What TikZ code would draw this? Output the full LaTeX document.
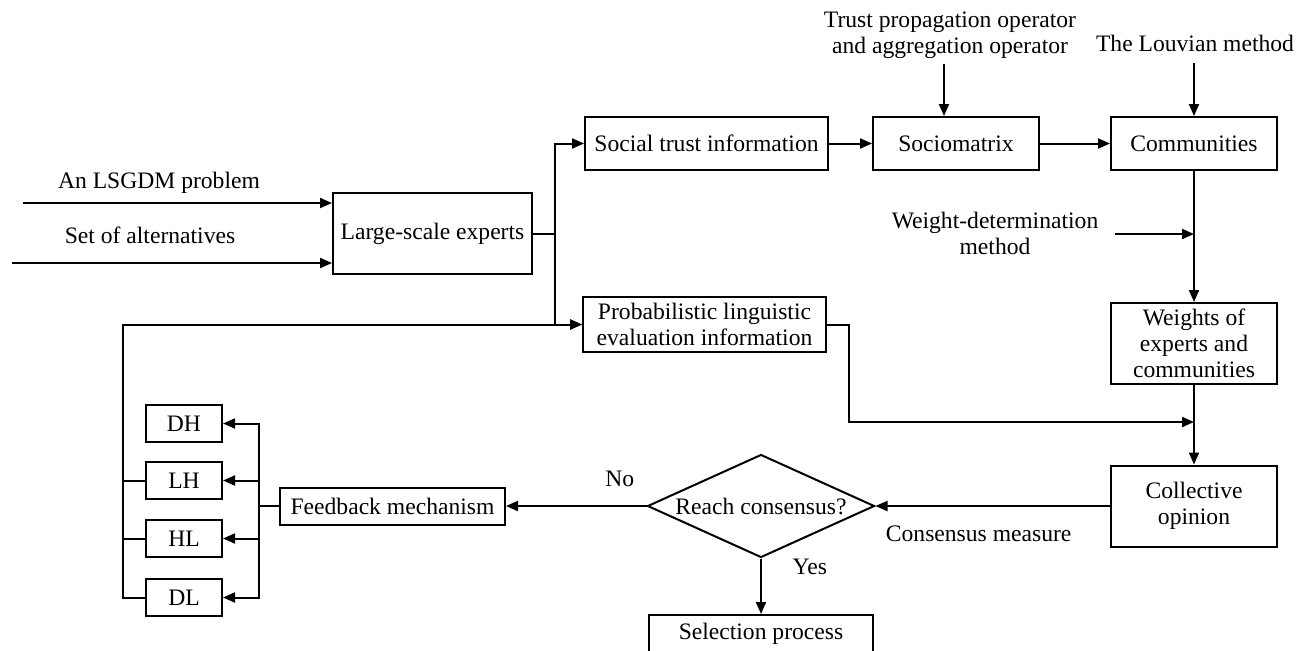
\documentclass[tikz,border=0pt]{standalone}
\usepackage{fontspec}
\setmainfont{Liberation Serif}
\usetikzlibrary{arrows.meta,shapes.geometric,calc}

\begin{document}
\begin{tikzpicture}[x=0.5pt, y=-0.5pt, line width=1pt,
	font=\fontsize{11.8}{13}\selectfont,
	box/.style={draw, align=center, inner sep=1pt},
	arr/.style={-{Triangle[length=6pt, width=5pt]}}]
	\useasboundingbox (0,0) rectangle (1307,650);

	% boxes
	\node[box, minimum width=99.5pt, minimum height=40.5pt] (large) at (432.5,233.5) {Large-scale experts};
	\node[box, minimum width=121.5pt, minimum height=26.5pt] (trust) at (706.5,143.5) {Social trust information};
	\node[box, minimum width=121.5pt, minimum height=27.5pt] (prob) at (704.5,324.5) {Probabilistic linguistic\\evaluation information};
	\node[box, minimum width=83pt, minimum height=26.5pt] (socio) at (956,143.5) {Sociomatrix};
	\node[box, minimum width=83pt, minimum height=26.5pt] (comm) at (1194,143.5) {Communities};
	\node[box, minimum width=83pt, minimum height=40.5pt] (weights) at (1194,343.5) {Weights of\\experts and\\communities};
	\node[box, minimum width=83pt, minimum height=40.5pt] (coll) at (1194,506) {Collective\\opinion};
	\node[draw, shape=diamond, aspect=2.2, inner sep=0pt, minimum width=113.5pt, minimum height=51.5pt] (dia) at (761,506) {Reach consensus?};
	\node[box, minimum width=112.5pt, minimum height=18.5pt] (fb) at (392.5,506) {Feedback mechanism};
	\node[box, minimum width=38pt, minimum height=18.5pt] (dh) at (184,423.5) {DH};
	\node[box, minimum width=38pt, minimum height=18.5pt] (lh) at (184,480.5) {LH};
	\node[box, minimum width=38pt, minimum height=18.5pt] (hl) at (184,538.5) {HL};
	\node[box, minimum width=38pt, minimum height=18.5pt] (dl) at (184,597.5) {DL};
	\node[box, minimum width=112pt, minimum height=18.5pt] (sel) at (761,633.5) {Selection process};

	% free labels
	\node (lsgdm) at (159,183) {An LSGDM problem};
	\node (alts) at (150,235) {Set of alternatives};
	\node[align=center] (tpo) at (950,35) {Trust propagation operator\\and aggregation operator};
	\node (louv) at (1195,43) {The Louvian method};
	\node[align=center] (wdm) at (995,233) {Weight-determination\\method};

	\coordinate (in1) at (23,203);
	\coordinate (in2) at (12,263);
	\coordinate (bus) at (555,233.5);
	\coordinate (lbus) at (123,597.5);
	\coordinate (fbus) at (259,506);
	\coordinate (tpoin) at (944,64);
	\coordinate (louvin) at (1194,63);
	\coordinate (wdin) at (1115,234);
	\coordinate (mrg) at (1194,422);

	\draw[arr] (in1) -- (in1 -| large.west);
	\draw[arr] (in2) -- (in2 -| large.west);
	\draw (large.east) -- (bus);
	\draw[arr] (bus) |- (trust.west);
	\draw[arr] (bus) |- (prob.west);
	\draw[arr] (trust) -- (socio);
	\draw[arr] (socio) -- (comm);
	\draw[arr] (tpoin) -- (tpoin |- socio.north);
	\draw[arr] (louvin) -- (comm.north);
	\draw[arr] (comm.south) -- (weights.north);
	\draw[arr] (wdin) -- (wdin -| weights.north);
	\draw[arr] (weights.south) -- (coll.north);
	\draw[arr] (prob.east) -- ++(22,0) |- (mrg);
	\draw[arr] (coll.west) -- (dia.east) node[below=6pt, pos=0.56] {Consensus measure};
	\draw[arr] (dia.west) -- (fb.east) node[above=6pt, pos=0.19] {No};
	\draw[arr] (dia.south) -- (sel.north) node[right=12pt, pos=0.15] {Yes};
	\draw (fb.west) -- (fbus);
	\foreach \n in {dh,lh,hl,dl}
		\draw[arr] (fbus) |- (\n.east);
	\draw[arr] (dl.west) -- (lbus) |- (prob.west);
	\draw (lh.west) -- (lh.west -| lbus);
	\draw (hl.west) -- (hl.west -| lbus);
\end{tikzpicture}
\end{document}
